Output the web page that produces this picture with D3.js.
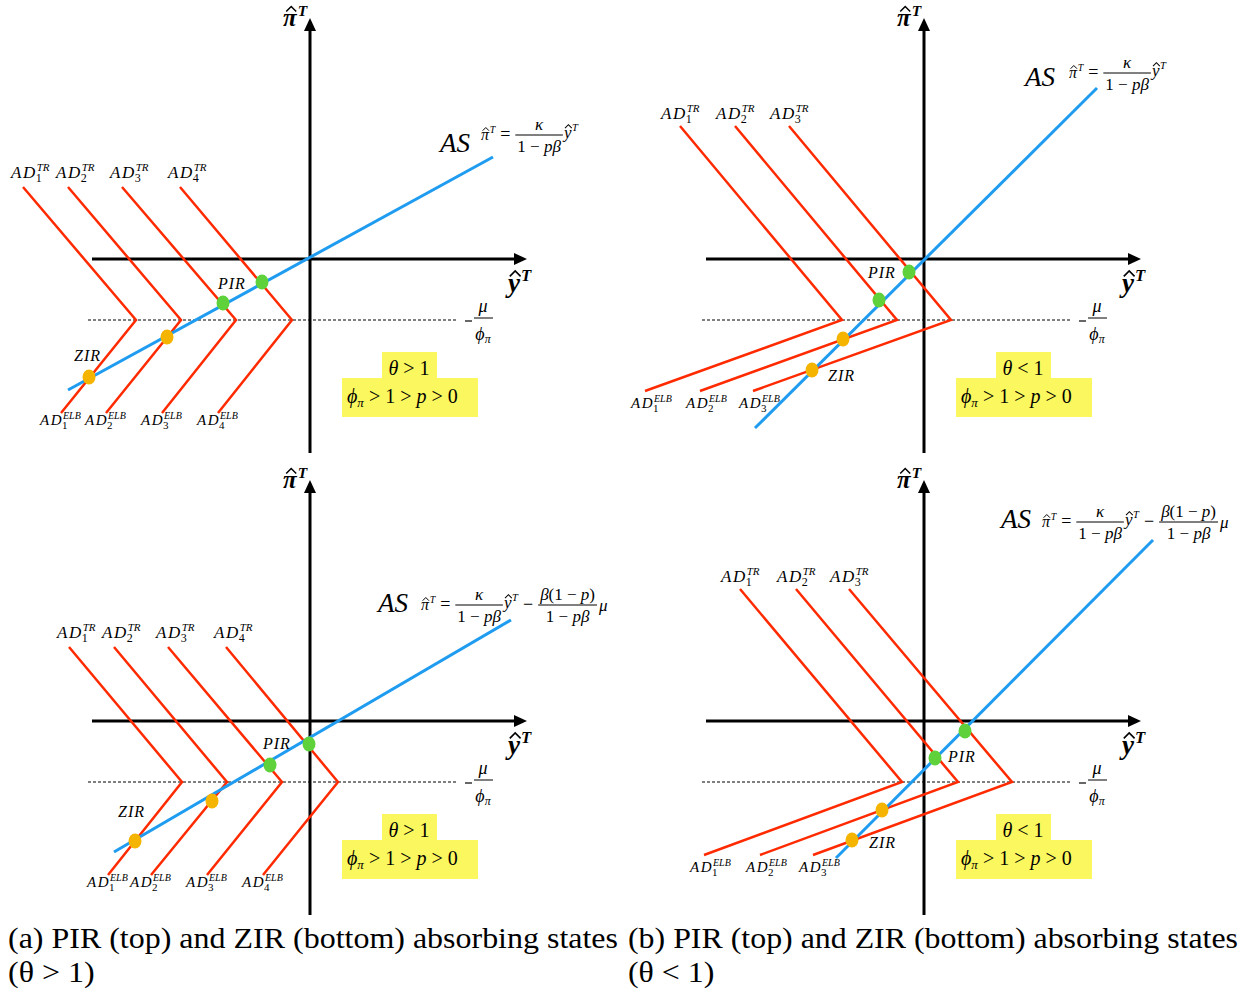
<!DOCTYPE html>
<html>
<head>
<meta charset="utf-8">
<script src="https://cdn.jsdelivr.net/npm/d3@7"></script>
<style>
  body { margin: 0; background: #fff; }
  svg text { font-family: "Liberation Serif", LiberationSerif, Tinos, "Times New Roman", Times, serif; fill: #000; }
</style>
</head>
<body>
<svg id="chart" width="1252" height="994"></svg>
<script>
// chart units: origin at the axes crossing, 1 unit ~ 10px, y up

// AD curves: x at top of the TR branch, x at the kink on the ELB line, x at the end of the ELB branch
const adTopA = [-28.7, -24.2, -18.8, -13.0];
const adKinkA = [-17.4, -12.9, -7.4, -1.8];
const adEndA = [-24.9, -20.4, -14.8, -9.2];
const adTopB = [-24.4, -18.9, -13.5];
const adKinkB = [-8.2, -2.7, 2.7];
const adEndB = [-27.9, -22.4, -17.1];
const adTopC = [-24.1, -19.6, -14.2, -8.4];
const adKinkC = [-12.8, -8.3, -2.8, 2.8];
const adEndC = [-20.2, -15.9, -10.3, -4.7];
const adTopD = [-18.4, -12.8, -7.5];
const adKinkD = [-2.2, 3.4, 8.8];
const adEndD = [-22.0, -16.4, -11.1];

// y of: top of TR branch, ELB level (-mu/phi_pi), end of ELB branch
const adLevelsA = [7.2, -6.1, -15.4];
const adLevelsB = [13.3, -6.1, -13.2];
const adLevelsC = [7.4, -6.1, -15.4];
const adLevelsD = [13.2, -6.1, -13.4];

// AS lines
const asA = [[-24.2, -13.1], [18.3, 10.2]];
const asB = [[-16.9, -16.9], [17.3, 17.1]];
const asC = [[-19.6, -13.1], [20.1, 10.1]];
const asD = [[-8.8, -13.7], [22.9, 18.1]];

// equilibria
const pirA = [[-8.7, -4.4], [-4.8, -2.3]];
const zirA = [[-14.3, -7.8], [-22.1, -11.8]];
const pirB = [[-4.5, -4.1], [-1.5, -1.3]];
const zirB = [[-8.1, -8.0], [-11.2, -11.1]];
const pirC = [[-4.0, -4.4], [-0.1, -2.3]];
const zirC = [[-9.8, -8.0], [-17.5, -12.0]];
const pirD = [[1.1, -3.7], [4.1, -1.0]];
const zirD = [[-4.2, -8.9], [-7.2, -11.9]];

const axisRangeX = [-21.8, 21.7];
const axisRangeY = [-19.4, 24.1];
const elbRangeX = [-22.2, 14.8];

const thetaA = '>';
const thetaB = '<';
const captionA = ['(a) PIR (top) and ZIR (bottom) absorbing states', '(θ > 1)'];
const captionB = ['(b) PIR (top) and ZIR (bottom) absorbing states', '(θ < 1)'];

const RED = '#ff2a00', BLUE = '#1f9cf0', GREEN = '#5fd13b', ORANGE = '#f4b400', YELLOW = '#fbf75e';

const svg = d3.select('#chart');

function txt(g, x, y, s, size, o = {}) {
  const t = g.append('text').attr('x', x).attr('y', y).attr('font-size', size).text(s);
  if (o.italic) t.attr('font-style', 'italic');
  if (o.anchor) t.attr('text-anchor', o.anchor);
  if (o.weight) t.attr('font-weight', o.weight);
  if (o.ls) t.attr('letter-spacing', o.ls);
  return t;
}
function width(t) { return t.node().getComputedTextLength(); }

// pieces: [string, italic]
function mtext(g, x, y, pieces, size, anchor) {
  const t = g.append('text').attr('x', x).attr('y', y).attr('font-size', size);
  if (anchor) t.attr('text-anchor', anchor);
  pieces.forEach(p => {
    const s = t.append('tspan').text(p[0]);
    if (p[1]) s.attr('font-style', 'italic');
  });
  return t;
}

// letter with a hat and a superscript T, returns width
function hatSup(g, x, y, ch, size, weight) {
  const t = txt(g, x, y, ch, size, { italic: true, weight: weight });
  const w = width(t);
  const hx = x + w * 0.6, hy = y - size * 0.58, hw = size * 0.2;
  g.append('path')
    .attr('d', `M${hx - hw},${hy} L${hx},${hy - size * 0.2} L${hx + hw},${hy}`)
    .attr('fill', 'none').attr('stroke', '#000').attr('stroke-width', Math.max(1, size * 0.06));
  const s = txt(g, x + w + size * 0.04, y - size * 0.42, 'T', size * 0.62, { italic: true, weight: weight });
  return w + size * 0.04 + width(s);
}

function frac(g, x, by, num, den, size) {
  const n = mtext(g, 0, by - 5, num, size, 'middle');
  const d = mtext(g, 0, by + size * 0.98, den, size, 'middle');
  const w = Math.max(width(n), width(d)) + 4;
  n.attr('x', x + w / 2);
  d.attr('x', x + w / 2);
  g.append('line').attr('x1', x).attr('x2', x + w).attr('y1', by).attr('y2', by)
    .attr('stroke', '#000').attr('stroke-width', 1);
  return w;
}

function asEquation(g, x, by, withMu) {
  const den = [['1 − ', 0], ['pβ', 1]];
  const fs = 17;
  let cx = x;
  cx += hatSup(g, cx, by + 5, 'π', 16) + 5;
  const eq = mtext(g, cx, by + 5, [['=', 0]], 18);
  cx += width(eq) + 5;
  cx += frac(g, cx, by, [['κ', 1]], den, fs) + 1;
  cx += hatSup(g, cx, by + 3, 'y', fs);
  if (withMu) {
    cx += 5;
    const m = mtext(g, cx, by + 5, [['−', 0]], 18);
    cx += width(m) + 5;
    cx += frac(g, cx, by, [['β', 1], ['(1 − ', 0], ['p', 1], [')', 0]], den, fs) + 2;
    mtext(g, cx, by + 6, [['μ', 1]], fs);
  }
}

function adLabel(g, x, y, i, sup, big) {
  const t = txt(g, x, y, 'AD', big ? 17 : 15, { italic: true, ls: 1.5 });
  const w = width(t);
  txt(g, x + w - 1, y + 4, i, big ? 12 : 11);
  txt(g, x + w, y - (big ? 7 : 6), sup, big ? 11 : 10, { italic: true });
}

function drawPanel(p) {
  const g = svg.append('g').attr('transform', `translate(${p.ox},${p.oy})`);
  const x = d3.scaleLinear().domain([0, 1]).range([0, 10]);
  const y = d3.scaleLinear().domain([0, 1]).range([0, -10]);
  const line = d3.line().x(d => x(d[0])).y(d => y(d[1]));

  // dotted ELB line
  g.append('line')
    .attr('x1', x(elbRangeX[0])).attr('x2', x(elbRangeX[1]))
    .attr('y1', y(p.levels[1])).attr('y2', y(p.levels[1]))
    .attr('stroke', '#000').attr('stroke-width', 1).attr('stroke-dasharray', '3,2');

  // axes with arrow heads
  const xt = x(axisRangeX[1]), yt = y(axisRangeY[1]);
  g.append('line').attr('x1', x(axisRangeX[0])).attr('x2', xt - 8).attr('y1', 0).attr('y2', 0)
    .attr('stroke', '#000').attr('stroke-width', 3);
  g.append('path').attr('d', `M${xt},0 L${xt - 13},-6 L${xt - 13},6 Z`).attr('fill', '#000');
  g.append('line').attr('x1', 0).attr('x2', 0).attr('y1', y(axisRangeY[0])).attr('y2', yt + 8)
    .attr('stroke', '#000').attr('stroke-width', 3);
  g.append('path').attr('d', `M0,${yt} L-6,${yt + 13} L6,${yt + 13} Z`).attr('fill', '#000');

  // AD curves
  p.top.forEach((t, i) => {
    const pts = [[t, p.levels[0]], [p.kink[i], p.levels[1]], [p.end[i], p.levels[2]]];
    g.append('path').attr('d', line(pts)).attr('fill', 'none')
      .attr('stroke', RED).attr('stroke-width', 2.5).attr('stroke-linejoin', 'miter');
    adLabel(g, x(t) + p.trOff[0], y(p.levels[0]) + p.trOff[1], String(i + 1), 'TR', true);
    adLabel(g, x(p.end[i]) + p.elbOff[0], y(p.levels[2]) + p.elbOff[1], String(i + 1), 'ELB', false);
  });

  // AS line
  g.append('path').attr('d', line(p.as)).attr('fill', 'none')
    .attr('stroke', BLUE).attr('stroke-width', 3);

  // equilibria
  g.selectAll('ellipse.pir').data(p.pir).join('ellipse').attr('class', 'pir')
    .attr('cx', d => x(d[0])).attr('cy', d => y(d[1])).attr('rx', 6.5).attr('ry', 7.5).attr('fill', GREEN);
  g.selectAll('ellipse.zir').data(p.zir).join('ellipse').attr('class', 'zir')
    .attr('cx', d => x(d[0])).attr('cy', d => y(d[1])).attr('rx', 6.5).attr('ry', 7.5).attr('fill', ORANGE);
  txt(g, p.pirLab[0], p.pirLab[1], 'PIR', 16, { italic: true, ls: 1 });
  txt(g, p.zirLab[0], p.zirLab[1], 'ZIR', 16, { italic: true, ls: 1 });

  // axis labels
  hatSup(g, -27, -233, 'π', 25, 'bold');
  hatSup(g, 198, 33, 'y', 27, 'bold');

  // -mu/phi_pi
  g.append('line').attr('x1', 155).attr('x2', 162).attr('y1', 62).attr('y2', 62).attr('stroke', '#000').attr('stroke-width', 1.2);
  g.append('line').attr('x1', 164).attr('x2', 183).attr('y1', 59).attr('y2', 59).attr('stroke', '#000').attr('stroke-width', 1);
  txt(g, 173, 53, 'μ', 18, { italic: true, anchor: 'middle' });
  const ph = g.append('text').attr('x', 173).attr('y', 81).attr('font-size', 18).attr('text-anchor', 'middle');
  ph.append('tspan').attr('font-style', 'italic').text('ϕ');
  ph.append('tspan').attr('font-style', 'italic').attr('font-size', 12).attr('dy', 3).text('π');

  // AS label and equation
  txt(g, p.asLab[0], p.asLab[1], 'AS', 27, { italic: true });
  asEquation(g, p.eq[0], p.eq[1], p.withMu);

  // conditions box
  g.append('rect').attr('x', 72).attr('y', 93).attr('width', 55).attr('height', 27).attr('fill', YELLOW);
  g.append('rect').attr('x', 32).attr('y', 119).attr('width', 136).attr('height', 39).attr('fill', YELLOW);
  mtext(g, 99, 116, [['θ', 1], [' ' + p.theta + ' 1', 0]], 20, 'middle');
  const c = g.append('text').attr('x', 37).attr('y', 144).attr('font-size', 20);
  c.append('tspan').attr('font-style', 'italic').text('ϕ');
  c.append('tspan').attr('font-style', 'italic').attr('font-size', 13).attr('dy', 4).text('π');
  c.append('tspan').attr('dy', -4).text(' > 1 > ');
  c.append('tspan').attr('font-style', 'italic').text('p');
  c.append('tspan').text(' > 0');
}

const trOffAC = [-12, -9], elbOffAC = [-21, 12];
const trOffBD = [-19, -7], elbOffBD = [-14, 17];

drawPanel({ ox: 310, oy: 259, top: adTopA, kink: adKinkA, end: adEndA, levels: adLevelsA, as: asA,
  pir: pirA, zir: zirA, trOff: trOffAC, elbOff: elbOffAC, pirLab: [-92, 30], zirLab: [-236, 102],
  asLab: [130, -107], eq: [171, -124], withMu: false, theta: thetaA });
drawPanel({ ox: 924, oy: 259, top: adTopB, kink: adKinkB, end: adEndB, levels: adLevelsB, as: asB,
  pir: pirB, zir: zirB, trOff: trOffBD, elbOff: elbOffBD, pirLab: [-56, 19], zirLab: [-96, 122],
  asLab: [101, -173], eq: [145, -186], withMu: false, theta: thetaB });
drawPanel({ ox: 310, oy: 721, top: adTopC, kink: adKinkC, end: adEndC, levels: adLevelsC, as: asC,
  pir: pirC, zir: zirC, trOff: trOffAC, elbOff: elbOffAC, pirLab: [-47, 28], zirLab: [-192, 96],
  asLab: [68, -109], eq: [111, -116], withMu: true, theta: thetaA });
drawPanel({ ox: 924, oy: 721, top: adTopD, kink: adKinkD, end: adEndD, levels: adLevelsD, as: asD,
  pir: pirD, zir: zirD, trOff: trOffBD, elbOff: elbOffBD, pirLab: [24, 41], zirLab: [-55, 127],
  asLab: [77, -193], eq: [118, -199], withMu: true, theta: thetaB });

// captions
function caption(x, lines) {
  const t1 = txt(svg, x, 948, lines[0], 29);
  const ratio = 610 / width(t1);
  t1.attr('textLength', 610).attr('lengthAdjust', 'spacingAndGlyphs');
  const t2 = txt(svg, x, 982, lines[1], 29);
  t2.attr('textLength', width(t2) * ratio).attr('lengthAdjust', 'spacingAndGlyphs');
}
caption(8, captionA);
caption(628, captionB);
</script>
</body>
</html>
